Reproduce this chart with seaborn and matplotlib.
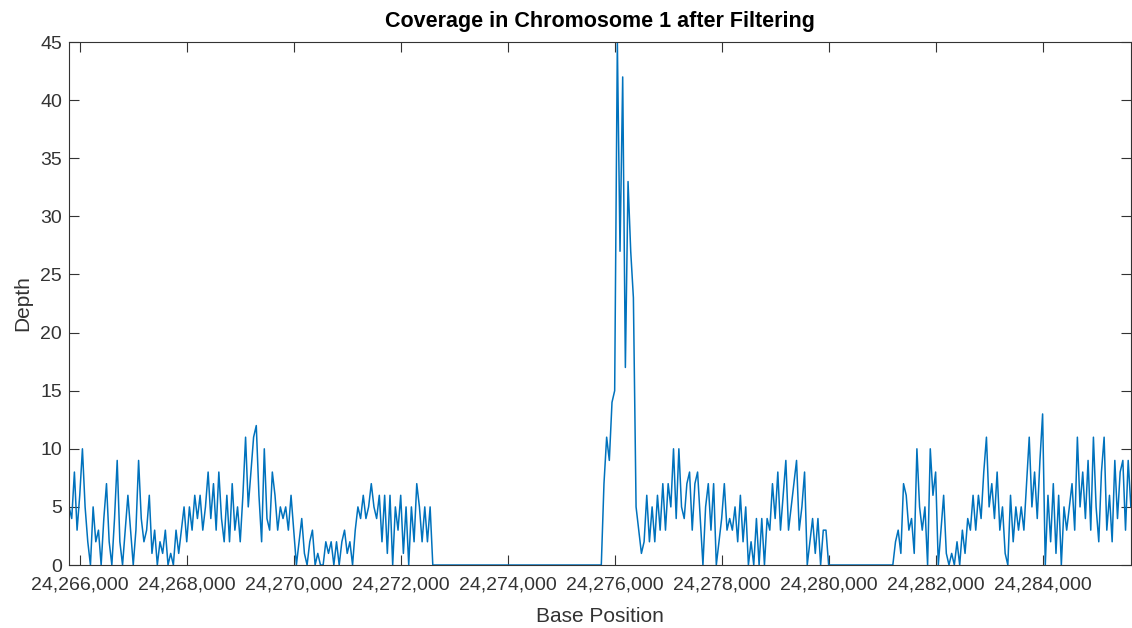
import numpy as np
import pandas as pd
import seaborn as sns
import matplotlib.pyplot as plt
import matplotlib.ticker as ticker

# coverage sampled every 50 bp starting at 24,265,800
start_pos = 24265800
step = 50
depth = [
    5, 4, 8, 3, 6, 10, 5, 2, 0, 5, 2, 3, 0, 4, 7, 2, 0, 4, 9, 2,
    0, 3, 6, 3, 0, 3, 9, 4, 2, 3, 6, 1, 3, 0, 2, 1, 3, 0, 1, 0,
    3, 1, 3, 5, 2, 5, 3, 6, 4, 6, 3, 5, 8, 4, 7, 3, 8, 4, 2, 6,
    2, 7, 3, 5, 2, 6, 11, 5, 8, 11, 12, 6, 2, 10, 4, 3, 8, 6, 3, 5,
    4, 5, 3, 6, 3, 0, 2, 4, 1, 0, 2, 3, 0, 1, 0, 0, 2, 1, 2, 0,
    2, 0, 2, 3, 1, 2, 0, 3, 5, 4, 6, 4, 5, 7, 5, 4, 6, 2, 6, 1,
    6, 0, 5, 3, 6, 1, 5, 0, 5, 2, 7, 5, 2, 5, 2, 5,
    0, 0, 0, 0, 0, 0, 0, 0, 0, 0, 0, 0, 0, 0, 0, 0, 0, 0, 0, 0,
    0, 0, 0, 0, 0, 0, 0, 0, 0, 0, 0, 0, 0, 0, 0, 0, 0, 0, 0, 0,
    0, 0, 0, 0, 0, 0, 0, 0, 0, 0, 0, 0, 0, 0, 0, 0, 0, 0, 0, 0,
    0, 0, 0, 0,
    7, 11, 9, 14, 15, 45, 27, 42, 17, 33, 27, 23, 5, 3, 1,
    2, 6, 2, 5, 2, 6, 3, 7, 3, 7, 5, 10, 4, 10, 5, 4, 7, 8, 3, 7,
    8, 4, 0, 5, 7, 3, 7, 0, 2, 4, 7, 3, 4, 3, 5, 2, 6, 2, 5, 0,
    2, 0, 4, 0, 4, 0, 4, 3, 7, 4, 8, 3, 6, 9, 3, 5, 7, 9, 3, 5,
    8, 0, 2, 4, 1, 4, 0, 3, 3,
    0, 0, 0, 0, 0, 0, 0, 0, 0, 0, 0, 0, 0, 0, 0, 0, 0, 0, 0, 0,
    0, 0, 0, 0, 0,
    2, 3, 1, 7, 6, 3, 4, 1, 10, 5, 3, 5, 0, 10, 6, 8, 0, 3, 6, 1,
    0, 1, 0, 2, 0, 3, 1, 4, 3, 6, 3, 6, 4, 8, 11, 5, 7, 4, 8, 3,
    5, 1, 0, 6, 2, 5, 3, 5, 3, 7, 11, 5, 8, 4, 9, 13, 0, 6, 2, 7,
    1, 6, 0, 5, 3, 5, 7, 3, 11, 5, 8, 4, 9, 3, 11, 5, 2, 8, 11, 3,
    6, 2, 9, 4, 8, 9, 3, 9, 5,
]
positions = start_pos + step * np.arange(len(depth))
xticks = list(range(24266000, 24286000, 2000))
yticks = list(range(0, 50, 5))

df = pd.DataFrame({"Base Position": positions, "Depth": depth})

sns.set_style("ticks")
plt.rcParams["font.family"] = ["Liberation Sans", "DejaVu Sans"]
grey = "#333333"

fig = plt.figure(figsize=(11.32, 6.28), dpi=100)
ax = fig.add_axes([0.061, 0.1003, 0.938, 0.8327])
sns.lineplot(data=df, x="Base Position", y="Depth", color="#0072BD",
             linewidth=1.1, ax=ax)

ax.set_xlim(positions[0], positions[-1])
ax.set_ylim(0, 45)
ax.set_xticks(xticks)
ax.set_yticks(yticks)
ax.xaxis.set_major_formatter(ticker.FuncFormatter(lambda v, p: f"{int(v):,}"))
ax.tick_params(direction="in", length=7, width=0.8, colors=grey,
               labelsize=14, top=True, right=True)
ax.tick_params(axis="x", pad=8)
ax.tick_params(axis="y", pad=5)
for s in ax.spines.values():
    s.set_color(grey)
    s.set_linewidth(0.8)
    s.set_visible(True)

ax.set_xlabel("Base Position", fontsize=15, color=grey, labelpad=10)
ax.set_ylabel("Depth", fontsize=15, color=grey, labelpad=6)
ax.set_title("Coverage in Chromosome 1 after Filtering", fontsize=15.5,
             fontweight="bold", color="black", pad=11)

plt.savefig("out.png", dpi=100)
